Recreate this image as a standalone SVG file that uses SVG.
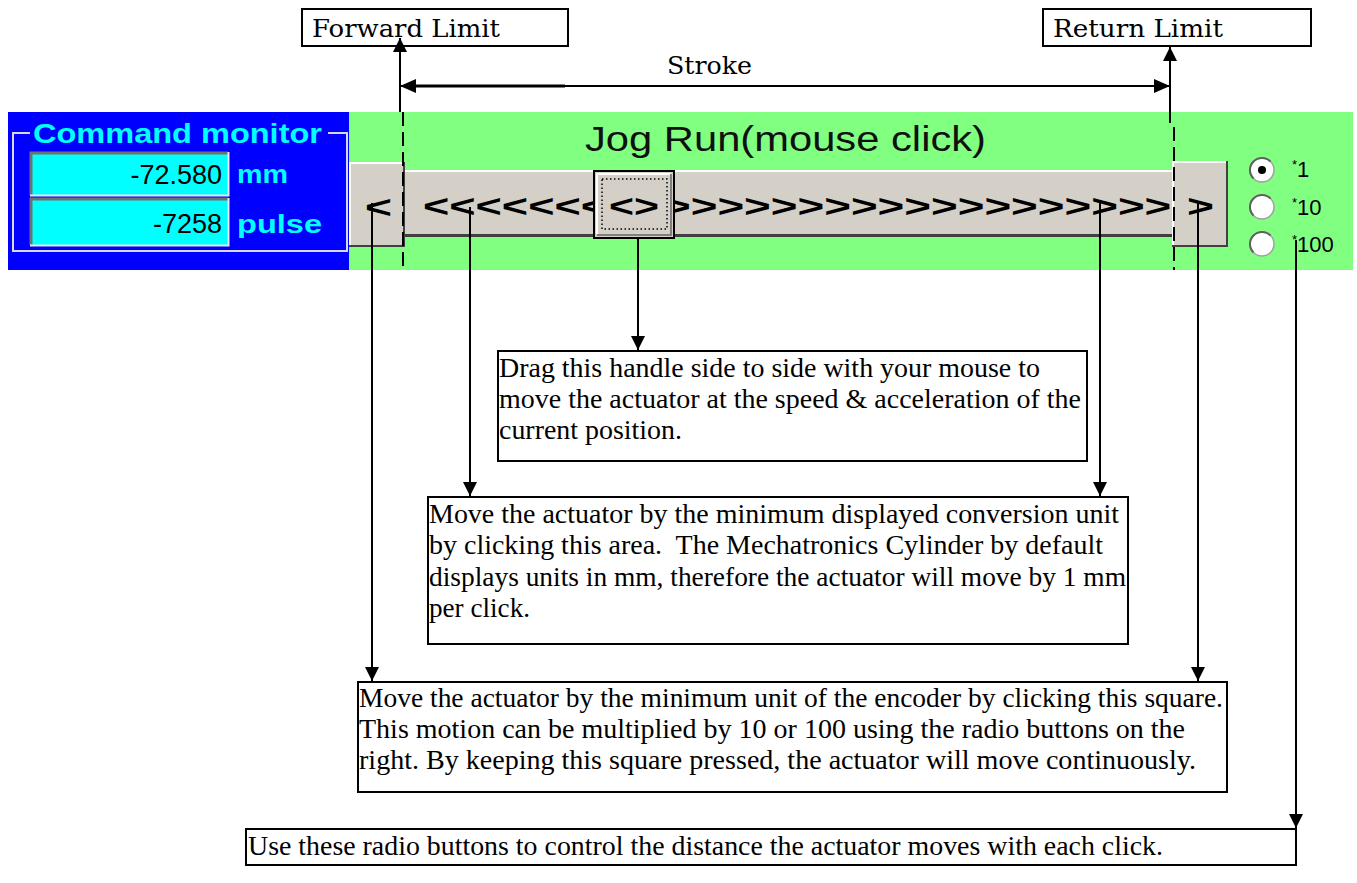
<svg xmlns="http://www.w3.org/2000/svg" width="1357" height="883" viewBox="0 0 1357 883">
<style>
.box{fill:#fff;stroke:#000;stroke-width:2}
.bt{font-family:"Liberation Serif","Times New Roman",serif;font-size:28px;fill:#000}
.lt{font-family:"DejaVu Serif","Liberation Serif",serif;font-size:24px;fill:#000}
.ui{font-family:"Liberation Sans",Arial,sans-serif}
.cy{fill:#00FFFF;font-weight:bold}
.num{fill:#000;font-size:27px}
.chev{font-family:"Liberation Sans",Arial,sans-serif;font-weight:bold;font-size:32px;fill:#000}
.btn{fill:#D4D0C8}
.hi{fill:none;stroke:#fff;stroke-width:2}
.sh{fill:none;stroke:#404040;stroke-width:2}
.conn line{stroke:#000;stroke-width:2}
.arr{marker-end:url(#ah)}
.dash{stroke-dasharray:14 6}
.radio{fill:#fff;stroke:#a0a0a0;stroke-width:1.5}
.rdark{fill:none;stroke:#606060;stroke-width:2}
.rl{font-family:"Liberation Sans",Arial,sans-serif;font-size:22px;fill:#000}
</style>
<defs>
<marker id="ah" markerUnits="userSpaceOnUse" markerWidth="14" markerHeight="14" refX="14" refY="7" orient="auto"><path d="M0,0 L14,7 L0,14 z" fill="#000"/></marker>
<marker id="ah2" markerUnits="userSpaceOnUse" markerWidth="16" markerHeight="14" refX="16" refY="7" orient="auto-start-reverse"><path d="M0,0 L16,7 L0,14 z" fill="#000"/></marker>
<clipPath id="trackclip"><rect x="405" y="170" width="767" height="67"/></clipPath>
</defs>

<g id="jog-panel">
<rect x="8" y="112" width="1345" height="158" fill="#80FF80"/>
<text class="ui" x="585" y="151" font-size="35" textLength="401" lengthAdjust="spacingAndGlyphs" fill="#101010">Jog Run(mouse click)</text>
</g>

<g id="command-monitor">
<rect x="8" y="112" width="341" height="158" fill="#0000FF"/>
<path d="M30,133 H13 V251 H347 V133 H328" fill="none" stroke="#D8D8D8" stroke-width="2"/>
<text class="ui cy" x="33" y="143" font-size="28" textLength="289" lengthAdjust="spacingAndGlyphs">Command monitor</text>
<rect x="30" y="152" width="198" height="43" fill="#00FFFF"/>
<path d="M31,195 V153 H228" fill="none" stroke="#707070" stroke-width="3"/>
<path d="M30,195.5 H228.5 V152" fill="none" stroke="#E8E8E8" stroke-width="2"/>
<rect x="30" y="198" width="198" height="47" fill="#00FFFF"/>
<path d="M31,245 V199 H228" fill="none" stroke="#707070" stroke-width="3"/>
<path d="M30,245.5 H228.5 V198" fill="none" stroke="#E8E8E8" stroke-width="2"/>
<text class="ui num" x="222" y="184" text-anchor="end">-72.580</text>
<text class="ui num" x="222" y="233" text-anchor="end">-7258</text>
<text class="ui cy" x="237" y="183" font-size="26" textLength="51" lengthAdjust="spacingAndGlyphs">mm</text>
<text class="ui cy" x="237" y="233" font-size="26" textLength="85" lengthAdjust="spacingAndGlyphs">pulse</text>
</g>

<g id="jog-track">
<rect x="405" y="170" width="767" height="67" class="btn"/>
<line x1="405" y1="171" x2="1172" y2="171" stroke="#fff" stroke-width="2"/>
<line x1="405" y1="235.5" x2="1172" y2="235.5" stroke="#404040" stroke-width="3"/>
<g clip-path="url(#trackclip)">
<text class="chev" x="423" y="216.5" textLength="184" lengthAdjust="spacingAndGlyphs">&lt;&lt;&lt;&lt;&lt;&lt;&lt;</text>
<text class="chev" x="664" y="216.5" textLength="534" lengthAdjust="spacingAndGlyphs">&gt;&gt;&gt;&gt;&gt;&gt;&gt;&gt;&gt;&gt;&gt;&gt;&gt;&gt;&gt;&gt;&gt;&gt;&gt;&gt;</text>
</g>
</g>

<g id="handle">
<rect x="594" y="171" width="80" height="67" class="btn" stroke="#000" stroke-width="2"/>
<path d="M597,234 V174 H671" class="hi"/>
<path d="M597,235 H671 V174" fill="none" stroke="#808080" stroke-width="2"/>
<rect x="602" y="179" width="65" height="50" fill="none" stroke="#000" stroke-width="1.5" stroke-dasharray="1.5 2.5"/>
<text class="chev" x="609" y="216.5" textLength="50" lengthAdjust="spacingAndGlyphs">&lt;&gt;</text>
</g>

<g id="left-button">
<rect x="349" y="162" width="56" height="85" class="btn"/>
<path d="M350,246 V163 H404" class="hi"/>
<path d="M349,246 H404 V162" class="sh"/>
<text class="chev" x="365" y="218" font-size="34" textLength="27" lengthAdjust="spacingAndGlyphs">&lt;</text>
</g>

<g id="right-button">
<rect x="1172" y="161" width="56" height="86" class="btn"/>
<path d="M1173,246 V162 H1227" class="hi"/>
<path d="M1172,246 H1227 V161" class="sh"/>
<text class="chev" x="1187" y="217" font-size="34" textLength="27" lengthAdjust="spacingAndGlyphs">&gt;</text>
</g>

<g id="radio-buttons">
<circle class="radio" cx="1262" cy="170" r="12"/>
<path class="rdark" d="M1253.5,178.5 A12,12 0 0 1 1270.5,161.5"/>
<circle cx="1262" cy="170" r="4" fill="#000"/>
<circle class="radio" cx="1262" cy="207" r="12"/>
<path class="rdark" d="M1253.5,215.5 A12,12 0 0 1 1270.5,198.5"/>
<circle class="radio" cx="1262" cy="244" r="12"/>
<path class="rdark" d="M1253.5,252.5 A12,12 0 0 1 1270.5,235.5"/>
<text class="rl" x="1292" y="177"><tspan font-size="13" dy="-8">*</tspan><tspan dy="8">1</tspan></text>
<text class="rl" x="1292" y="215"><tspan font-size="13" dy="-8">*</tspan><tspan dy="8">10</tspan></text>
<text class="rl" x="1292" y="252"><tspan font-size="13" dy="-8">*</tspan><tspan dy="8">100</tspan></text>
</g>

<g id="forward-limit">
<rect class="box" x="302" y="9" width="266" height="37"/>
<text class="lt" x="312" y="37" textLength="188" lengthAdjust="spacingAndGlyphs">Forward Limit</text>
</g>

<g id="return-limit">
<rect class="box" x="1043" y="9" width="268" height="37"/>
<text class="lt" x="1053" y="37" textLength="170" lengthAdjust="spacingAndGlyphs">Return Limit</text>
</g>

<g id="stroke-label">
<text class="lt" x="667" y="74" textLength="85" lengthAdjust="spacingAndGlyphs">Stroke</text>
</g>

<g id="note-handle">
<rect class="box" x="498" y="351" width="589" height="110"/>
<text class="bt" x="499" y="377" textLength="541" lengthAdjust="spacingAndGlyphs">Drag this handle side to side with your mouse to</text>
<text class="bt" x="499" y="408" textLength="582" lengthAdjust="spacingAndGlyphs">move the actuator at the speed &amp; acceleration of the</text>
<text class="bt" x="499" y="439" textLength="183" lengthAdjust="spacingAndGlyphs">current position.</text>
</g>

<g id="note-area">
<rect class="box" x="428" y="497" width="700" height="147"/>
<text class="bt" x="429" y="523" textLength="690" lengthAdjust="spacingAndGlyphs">Move the actuator by the minimum displayed conversion unit</text>
<text class="bt" x="429" y="554" textLength="674" lengthAdjust="spacingAndGlyphs" xml:space="preserve">by clicking this area.  The Mechatronics Cylinder by default</text>
<text class="bt" x="429" y="586" textLength="697" lengthAdjust="spacingAndGlyphs">displays units in mm, therefore the actuator will move by 1 mm</text>
<text class="bt" x="429" y="617" textLength="101" lengthAdjust="spacingAndGlyphs">per click.</text>
</g>

<g id="note-square">
<rect class="box" x="358" y="682" width="869" height="110"/>
<text class="bt" x="359" y="707" textLength="864" lengthAdjust="spacingAndGlyphs">Move the actuator by the minimum unit of the encoder by clicking this square.</text>
<text class="bt" x="359" y="738" textLength="826" lengthAdjust="spacingAndGlyphs">This motion can be multiplied by 10 or 100 using the radio buttons on the</text>
<text class="bt" x="359" y="769" textLength="837" lengthAdjust="spacingAndGlyphs">right. By keeping this square pressed, the actuator will move continuously.</text>
</g>

<g id="note-radio">
<rect class="box" x="246" y="829" width="1050" height="36"/>
<text class="bt" x="248" y="855" textLength="915" lengthAdjust="spacingAndGlyphs">Use these radio buttons to control the distance the actuator moves with each click.</text>
</g>

<g id="connectors" class="conn">
<line class="arr" x1="400" y1="112" x2="400" y2="38"/>
<line class="arr" x1="1170" y1="123" x2="1170" y2="47"/>
<line x1="400" y1="86" x2="1170" y2="86" marker-start="url(#ah2)" marker-end="url(#ah2)"/>
<line x1="410" y1="86" x2="565" y2="86" style="stroke-width:3"/>
<line class="dash" x1="403" y1="112" x2="403" y2="270"/>
<line class="dash" x1="1174" y1="127" x2="1174" y2="270"/>
<line class="arr" x1="638" y1="238" x2="638" y2="350"/>
<line class="arr" x1="470" y1="207" x2="470" y2="496"/>
<line class="arr" x1="1100" y1="202" x2="1100" y2="496"/>
<line class="arr" x1="372" y1="203" x2="372" y2="681"/>
<line class="arr" x1="1198" y1="203" x2="1198" y2="681"/>
<line class="arr" x1="1296" y1="240" x2="1296" y2="828"/>
</g>
</svg>
